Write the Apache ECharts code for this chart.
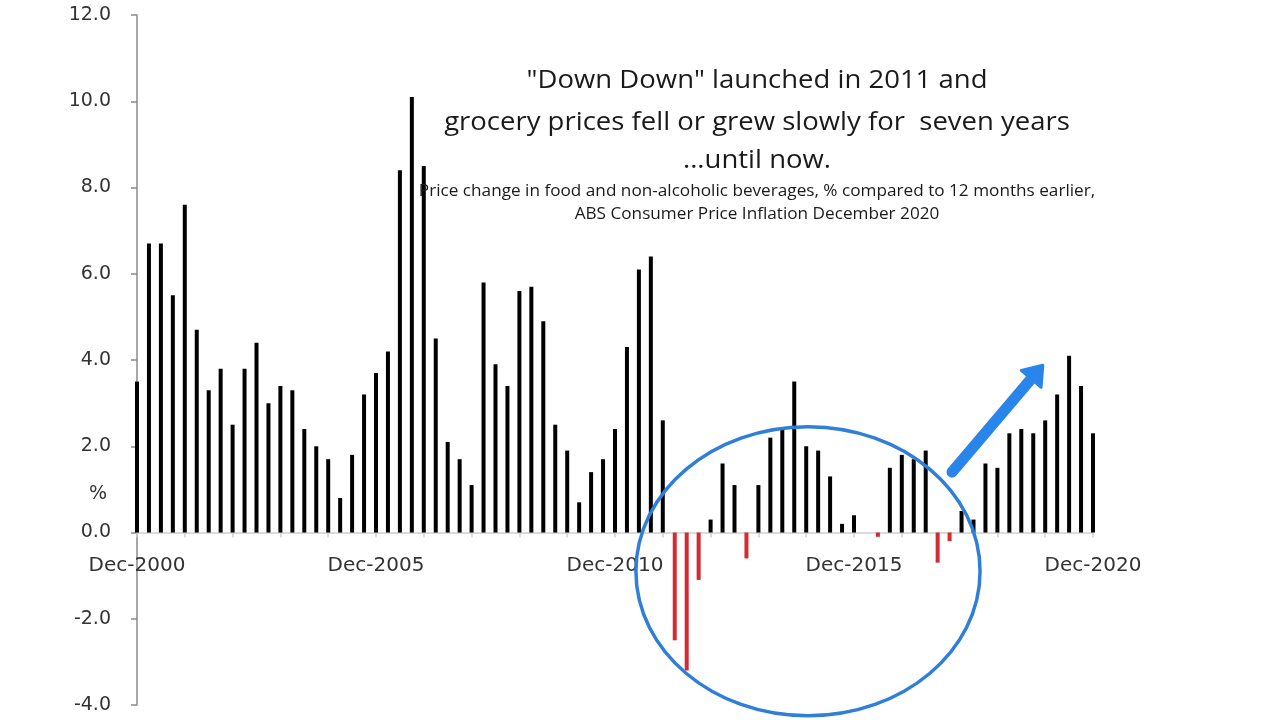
<!DOCTYPE html>
<html>
<head>
<meta charset="utf-8">
<script src="https://cdn.jsdelivr.net/npm/echarts@6/dist/echarts.min.js"></script>
<style>html,body{margin:0;padding:0;background:#fff}#c{width:1280px;height:720px}</style>
</head>
<body>
<div id="c"></div>
<script>
// Quarterly categories, Dec-2000 .. Dec-2020
const categories = [
  "Dec-2000",
  "Mar-2001","Jun-2001","Sep-2001","Dec-2001",
  "Mar-2002","Jun-2002","Sep-2002","Dec-2002",
  "Mar-2003","Jun-2003","Sep-2003","Dec-2003",
  "Mar-2004","Jun-2004","Sep-2004","Dec-2004",
  "Mar-2005","Jun-2005","Sep-2005","Dec-2005",
  "Mar-2006","Jun-2006","Sep-2006","Dec-2006",
  "Mar-2007","Jun-2007","Sep-2007","Dec-2007",
  "Mar-2008","Jun-2008","Sep-2008","Dec-2008",
  "Mar-2009","Jun-2009","Sep-2009","Dec-2009",
  "Mar-2010","Jun-2010","Sep-2010","Dec-2010",
  "Mar-2011","Jun-2011","Sep-2011","Dec-2011",
  "Mar-2012","Jun-2012","Sep-2012","Dec-2012",
  "Mar-2013","Jun-2013","Sep-2013","Dec-2013",
  "Mar-2014","Jun-2014","Sep-2014","Dec-2014",
  "Mar-2015","Jun-2015","Sep-2015","Dec-2015",
  "Mar-2016","Jun-2016","Sep-2016","Dec-2016",
  "Mar-2017","Jun-2017","Sep-2017","Dec-2017",
  "Mar-2018","Jun-2018","Sep-2018","Dec-2018",
  "Mar-2019","Jun-2019","Sep-2019","Dec-2019",
  "Mar-2020","Jun-2020","Sep-2020","Dec-2020"
];

// Annual % change, food and non-alcoholic beverages
const values = [
  3.5,
  6.7, 6.7, 5.5, 7.6,
  4.7, 3.3, 3.8, 2.5,
  3.8, 4.4, 3.0, 3.4,
  3.3, 2.4, 2.0, 1.7,
  0.8, 1.8, 3.2, 3.7,
  4.2, 8.4, 10.1, 8.5,
  4.5, 2.1, 1.7, 1.1,
  5.8, 3.9, 3.4, 5.6,
  5.7, 4.9, 2.5, 1.9,
  0.7, 1.4, 1.7, 2.4,
  4.3, 6.1, 6.4, 2.6,
  -2.5, -3.2, -1.1, 0.3,
  1.6, 1.1, -0.6, 1.1,
  2.2, 2.4, 3.5, 2.0,
  1.9, 1.3, 0.2, 0.4,
  0.0, -0.1, 1.5, 1.8,
  1.7, 1.9, -0.7, -0.2,
  0.5, 0.3, 1.6, 1.5,
  2.3, 2.4, 2.3, 2.6,
  3.2, 4.1, 3.4, 2.3
];

const xTickLabels = ["Dec-2000", "Dec-2005", "Dec-2010", "Dec-2015", "Dec-2020"];
const yMin = -4, yMax = 12, yStep = 2;

const titleLines = [
  '"Down Down" launched in 2011 and',
  'grocery prices fell or grew slowly for  seven years',
  '...until now.'
];
const subtitleLines = [
  'Price change in food and non-alcoholic beverages, % compared to 12 months earlier,',
  'ABS Consumer Price Inflation December 2020'
];

// annotation anchors in data space: [categoryIndex (fractional), value]
const ellipseCenter = [56.15, -0.9];
const ellipseCorner = [70.55, -4.25];
const arrowFrom = [68.2, 1.4];
const arrowTo = [75.8, 3.88];

const chart = echarts.init(document.getElementById('c'));
const FONT = '"Open Sans", Lato, sans-serif';
const AXFONT = '"DejaVu Sans", "Open Sans", sans-serif';

chart.setOption({
  animation: false,
  backgroundColor: '#fff',
  grid: { left: 137, right: 187, top: 15, bottom: 15, containLabel: false, outerBoundsMode: 'none' },
  xAxis: {
    type: 'category',
    data: categories,
    boundaryGap: false,
    axisLine: { onZero: true, lineStyle: { color: '#cfcfcf', width: 1.5 } },
    axisTick: {
      show: true, length: 5, alignWithLabel: true,
      interval: (i) => i % 4 === 0,
      lineStyle: { color: '#cfcfcf', width: 1.5 }
    },
    axisLabel: { show: false },
    splitLine: { show: false }
  },
  yAxis: {
    type: 'value',
    min: yMin, max: yMax, interval: yStep,
    axisLine: { show: true, onZero: false, lineStyle: { color: '#8a8a8a', width: 1.5 } },
    axisTick: { show: true, length: 6, lineStyle: { color: '#8a8a8a', width: 1.5 } },
    axisLabel: {
      formatter: (v) => v.toFixed(1),
      margin: 26,
      fontSize: 19,
      fontFamily: AXFONT,
      color: '#333'
    },
    splitLine: { show: false }
  },
  series: [{
    type: 'bar',
    data: values,
    barWidth: 4,
    itemStyle: {
      color: (p) => p.value < 0 ? '#d42a32' : '#000'
    }
  }]
});

// category axis converts to whole categories only; interpolate fractional positions
function toPx(pt) {
  const i0 = Math.floor(pt[0]);
  const f = pt[0] - i0;
  const p0 = chart.convertToPixel({ gridIndex: 0 }, [i0, pt[1]]);
  const p1 = chart.convertToPixel({ gridIndex: 0 }, [i0 + 1, pt[1]]);
  return [p0[0] + (p1[0] - p0[0]) * f, p0[1]];
}

function drawAnnotations() {
  const c = toPx(ellipseCenter);
  const e = toPx(ellipseCorner);
  const a0 = toPx(arrowFrom);
  const a1 = toPx(arrowTo);
  const dx = a1[0] - a0[0], dy = a1[1] - a0[1];
  const len = Math.sqrt(dx * dx + dy * dy);
  const ux = dx / len, uy = dy / len;
  const headLen = 18, headHalf = 13;
  const base = [a1[0] - ux * headLen, a1[1] - uy * headLen];
  const px = -uy, py = ux;
  const centerX = 757;
  const graphics = [];
  xTickLabels.forEach((lab) => {
    const p = toPx([categories.indexOf(lab), 0]);
    graphics.push({
      type: 'text', x: p[0], y: p[1] + 33, z: 5,
      style: { text: lab, font: '400 20px ' + AXFONT, fill: '#333', textAlign: 'center', textVerticalAlign: 'middle' }
    });
  });
  const tY = [81, 123, 161];
  titleLines.forEach((t, i) => graphics.push({
    type: 'text', x: centerX, y: tY[i], z: 10, scaleX: 1.1,
    style: { text: t, x: 0, y: 0, font: '400 25px ' + FONT, fill: '#1a1a1a', textAlign: 'center', textVerticalAlign: 'middle' }
  }));
  const sY = [191, 214];
  subtitleLines.forEach((t, i) => graphics.push({
    type: 'text', x: centerX, y: sY[i], z: 10, scaleX: 1.01,
    style: { text: t, x: 0, y: 0, font: '400 17px ' + FONT, fill: '#1a1a1a', textAlign: 'center', textVerticalAlign: 'middle' }
  }));
  graphics.push({
    type: 'text', x: 98, y: 494, z: 10,
    style: { text: '%', font: '400 19px ' + AXFONT, fill: '#333', textAlign: 'center', textVerticalAlign: 'middle' }
  });
  graphics.push({
    type: 'ellipse', z: 20,
    shape: { cx: c[0], cy: c[1], rx: Math.abs(e[0] - c[0]), ry: Math.abs(e[1] - c[1]) },
    style: { fill: 'none', stroke: '#2f7fd8', lineWidth: 3.5 }
  });
  graphics.push({
    type: 'line', z: 20,
    shape: { x1: a0[0], y1: a0[1], x2: base[0] + ux * 3, y2: base[1] + uy * 3 },
    style: { stroke: '#2a85ea', lineWidth: 11, lineCap: 'round' }
  });
  graphics.push({
    type: 'polygon', z: 20,
    shape: { points: [
      [a1[0], a1[1]],
      [base[0] + px * headHalf, base[1] + py * headHalf],
      [base[0] - px * headHalf, base[1] - py * headHalf]
    ] },
    style: { fill: '#2a85ea', stroke: '#2a85ea', lineWidth: 3, lineJoin: 'round' }
  });
  chart.setOption({ graphic: graphics });
}
drawAnnotations();
</script>
</body>
</html>
